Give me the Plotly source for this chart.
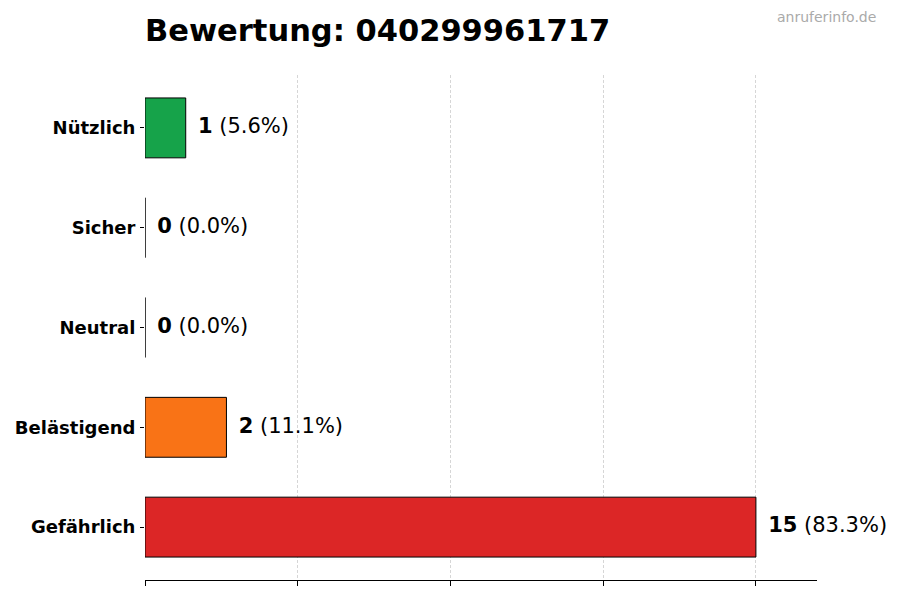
import plotly.graph_objects as go

# Bewertungen (von unten nach oben wie im Diagramm)
categories = ["Gefährlich", "Belästigend", "Neutral", "Sicher", "Nützlich"]
counts = [15, 2, 0, 0, 1]
bar_colors = ["#dc2626", "#f97316", "#6b7280", "#3b82f6", "#16a34a"]
phone_number = "040299961717"

total = sum(counts)
max_count = max(counts)
labels = [f"<b>{c}</b> ({c / total * 100:.1f}%)" for c in counts]

fig = go.Figure()

fig.add_trace(
    go.Bar(
        x=counts,
        y=categories,
        orientation="h",
        width=0.6,
        marker=dict(color=bar_colors, line=dict(color="black", width=1)),
        hoverinfo="skip",
        showlegend=False,
    )
)

# Wert-Beschriftungen rechts neben den Balken
fig.add_trace(
    go.Scatter(
        x=[c + max_count * 0.02 for c in counts],
        y=categories,
        mode="text",
        text=labels,
        textposition="middle right",
        textfont=dict(size=21, color="black", family="DejaVu Sans"),
        cliponaxis=False,
        hoverinfo="skip",
        showlegend=False,
    )
)

fig.add_annotation(
    text="anruferinfo.de",
    xref="paper",
    yref="paper",
    x=1.091,
    y=1.115,
    xanchor="right",
    yanchor="middle",
    showarrow=False,
    font=dict(size=14, color="#aaaaaa", family="DejaVu Sans"),
)

# die Seite hat 8px Rand, daher die Margins leicht verschoben
fig.update_layout(
    width=900,
    height=600,
    margin=dict(l=137, r=91, t=67, b=28, autoexpand=False),
    title=dict(
        text=f"<b>Bewertung: {phone_number}</b>",
        x=137 / 900,
        xanchor="left",
        y=1 - 22 / 600,
        yanchor="middle",
        font=dict(size=30.5, color="black", family="DejaVu Sans"),
    ),
    plot_bgcolor="white",
    paper_bgcolor="white",
    font=dict(family="DejaVu Sans", color="black"),
    xaxis=dict(
        range=[0, max_count * 1.1],
        tickvals=[max_count * i / 4 for i in range(5)],
        showticklabels=False,
        ticks="outside",
        ticklen=5,
        tickcolor="black",
        showgrid=True,
        gridcolor="#d6d6d6",
        griddash="3px,2px",
        gridwidth=0.8,
        showline=True,
        linecolor="black",
        linewidth=1,
        zeroline=False,
        fixedrange=True,
    ),
    yaxis=dict(
        categoryorder="array",
        categoryarray=categories,
        range=[-0.53, len(categories) - 1 + 0.53],
        ticks="outside",
        ticklen=4,
        tickcolor="black",
        ticklabelstandoff=1,
        tickfont=dict(size=18, color="black", family="DejaVu Sans"),
        showline=False,
        showgrid=False,
        zeroline=False,
        fixedrange=True,
    ),
)

fig.update_yaxes(ticktext=[f"<b>{c}</b>" for c in categories], tickvals=categories)

fig.write_html("out.html")
